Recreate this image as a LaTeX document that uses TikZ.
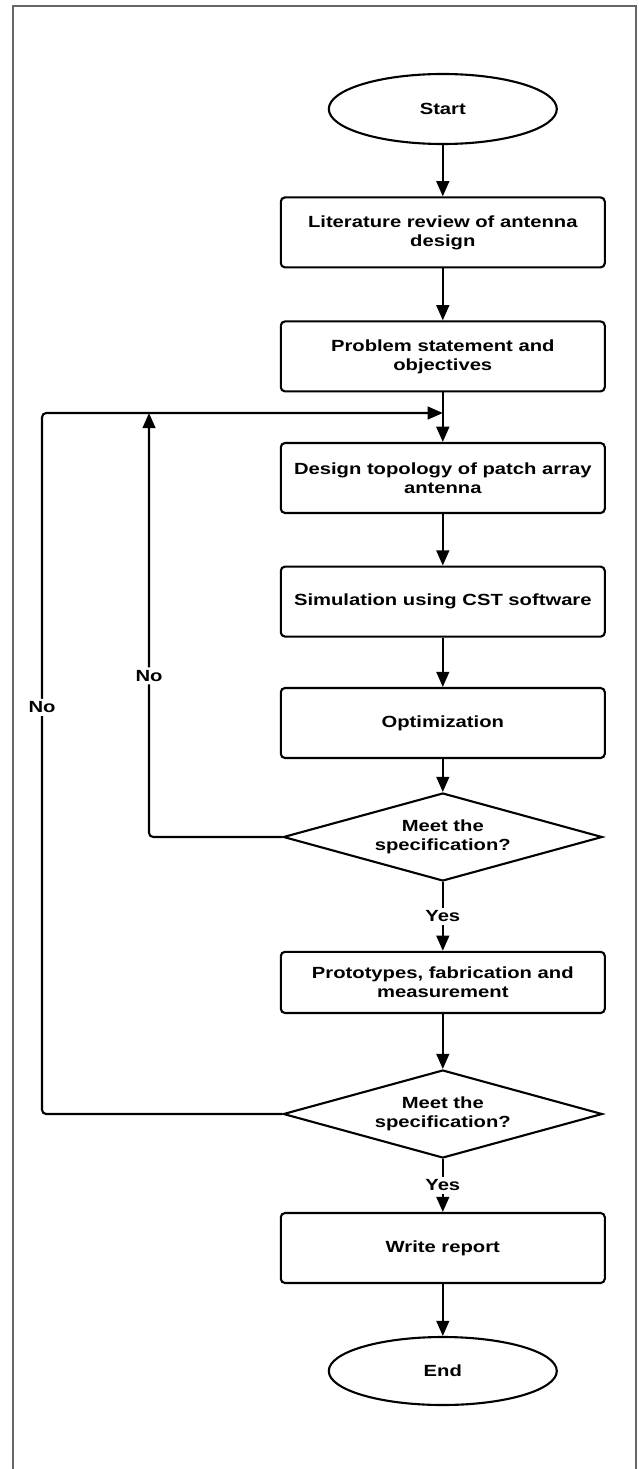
\documentclass[tikz,border=0pt]{standalone}
\usepackage{fontspec}
\setmainfont{Liberation Sans}[FakeStretch=1.25]
\usetikzlibrary{shapes.geometric,arrows.meta}

\begin{document}
\begin{tikzpicture}[
  font=\fontsize{11.5}{13.5}\selectfont\bfseries,
  stepbox/.style={draw, line width=1.5pt, rounded corners=3pt, align=center, minimum width=8.1cm, minimum height=1.75cm},
  termnode/.style={draw, ellipse, line width=1.5pt, minimum width=5.7cm, minimum height=1.75cm},
  check/.style={draw, diamond, aspect=3.6, line width=1.5pt, align=center, inner sep=0pt, minimum width=7.975cm, minimum height=2.2cm},
  arr/.style={line width=1.5pt, -{Triangle[length=0.38cm, width=0.32cm]}},
  lbl/.style={fill=white, inner sep=2pt}
]

  % Page frame
  \useasboundingbox (0,0) rectangle (15.95,-36.725);
  \draw[gray!80!black, line width=1pt] (0.325,-36.9) -- (0.325,-0.15) -- (15.9,-0.15) -- (15.9,-36.9);

  % Main column
  \node[termnode] (start)  at (11.07,-2.725) {Start};
  \node[stepbox]  (lit)    at (11.07,-5.81)  {Literature review of antenna\\design};
  \node[stepbox]  (prob)   at (11.07,-8.91)  {Problem statement and\\objectives};
  \node[stepbox]  (design) at (11.07,-11.95) {Design topology of patch array\\antenna};
  \node[stepbox]  (sim)    at (11.07,-15.04) {Simulation using CST software};
  \node[stepbox]  (opt)    at (11.07,-18.075) {Optimization};
  \node[check]    (dec1)   at (11.07,-20.925) {Meet the\\specification?};
  \node[stepbox, minimum height=1.53cm] (proto) at (11.07,-24.56) {Prototypes, fabrication and\\measurement};
  \node[check]    (dec2)   at (11.07,-27.85) {Meet the\\specification?};
  \node[stepbox]  (report) at (11.07,-31.2)  {Write report};
  \node[termnode, minimum height=1.7cm] (end) at (11.07,-34.275) {End};

  % Straight arrows
  \foreach \a/\b in {start/lit, lit/prob, prob/design, design/sim, sim/opt, opt/dec1, proto/dec2, report/end}
    \draw[arr] (\a) -- (\b);

  \draw[arr] (dec1) -- node[lbl] {Yes} (proto);
  \draw[arr] (dec2) -- node[lbl] {Yes} (report);

  % Feedback loops
  \coordinate (join)     at (11.07,-10.325);
  \coordinate (innertop) at (3.725,-10.325);
  \coordinate (outertop) at (1.05,-10.325);

  \draw[arr, rounded corners=3pt] (dec1.west) -| node[lbl, pos=0.69] {No} (innertop);
  \draw[arr, rounded corners=3pt] (dec2.west) -| node[lbl, pos=0.79] {No} (outertop) -- (join);

\end{tikzpicture}
\end{document}
